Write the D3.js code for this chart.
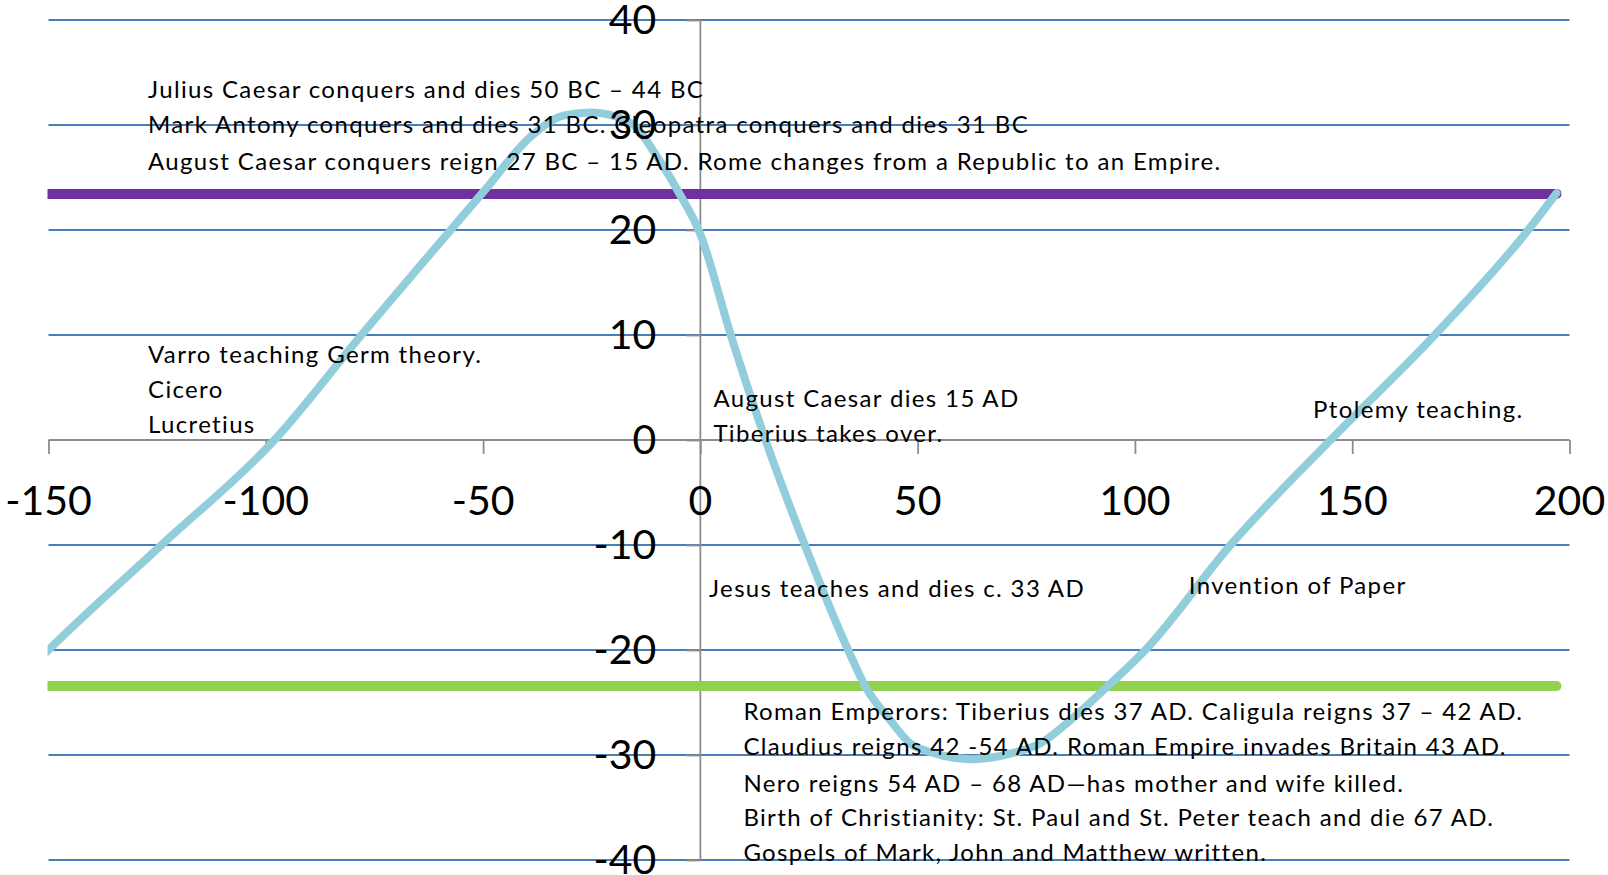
<!DOCTYPE html>
<html>
<head>
<meta charset="utf-8">
<script src="https://cdn.jsdelivr.net/npm/d3@7"></script>
<style>
  html, body { margin: 0; padding: 0; background: #fff; }
  svg { display: block; }
  text { font-family: Lato, "Open Sans", sans-serif; fill: #000; }
</style>
</head>
<body>
<svg id="chart" width="1608" height="875"></svg>
<script>
// ---- data ----
const xTicks = [-150, -100, -50, 0, 50, 100, 150, 200];
const yTicks = [-40, -30, -20, -10, 0, 10, 20, 30, 40];

// curve (year, value)
const curveX = [-156, -150, -124, -98, -78, -62, -50, -39, -31.5, -25, -16, -10, -5, 0, 7, 15, 24.5, 34, 38, 43.7, 48.3, 53.6, 62.5, 72, 78.2, 85.1, 93.6, 102.4, 122, 145, 169, 190.5, 197];
const curveY = [-22.5, -20, -10, 0, 10, 17.8, 23.6, 28.9, 30.9, 31.2, 30.2, 27, 23.6, 19.6, 10, 0, -10.5, -20, -23.5, -26.7, -28.9, -29.8, -30.4, -29.8, -28.9, -26.7, -23.5, -20, -10, 0, 10, 20, 23.5];

// tropic lines
const tropicNames = ["cancer", "capricorn"];
const tropicValues = [23.44, -23.44];
const tropicStart = [-156, -156];
const tropicEnd = [197, 197];
const tropicColors = ["#7030A0", "#92D050"];

// annotations
const noteText = [
  "Julius Caesar conquers and dies 50 BC – 44 BC",
  "Mark Antony conquers and dies 31 BC. Cleopatra conquers and dies 31 BC",
  "August Caesar conquers reign 27 BC – 15 AD. Rome changes from a Republic to an Empire.",
  "Varro teaching Germ theory.",
  "Cicero",
  "Lucretius",
  "August Caesar dies 15 AD",
  "Tiberius takes over.",
  "Ptolemy teaching.",
  "Jesus teaches and dies c. 33 AD",
  "Invention of Paper",
  "Roman Emperors: Tiberius dies 37 AD. Caligula reigns 37 – 42 AD.",
  "Claudius reigns 42 -54 AD. Roman Empire invades Britain 43 AD.",
  "Nero reigns 54 AD – 68 AD—has mother and wife killed.",
  "Birth of Christianity: St. Paul and St. Peter teach and die 67 AD.",
  "Gospels of Mark, John and Matthew written."
];
// anchor of each note in data units (year, value at baseline)
const noteX = [-127.1, -127.1, -127.1, -127.1, -127.1, -127.1, 3, 3, 141, 2, 112.4, 9.9, 9.9, 9.9, 9.9, 9.9];
const noteY = [32.57, 29.24, 25.75, 7.33, 4.0, 0.62, 3.14, -0.19, 2.1, -14.95, -14.67, -26.67, -30.0, -33.52, -36.76, -40.1];

// ---- drawing ----
const svg = d3.select("#chart");
const x = d3.scaleLinear().domain([-150, 200]).range([48.5, 1569.5]);
const y = d3.scaleLinear().domain([-40, 40]).range([860, 20]);

svg.append("defs").append("clipPath").attr("id", "plotclip")
  .append("rect")
  .attr("x", x(-150) - 1).attr("y", 0)
  .attr("width", x(200) - x(-150) + 30).attr("height", 875);

// gridlines
svg.append("g").selectAll("line")
  .data(yTicks.filter(d => d !== 0))
  .join("line")
  .attr("x1", x(-150)).attr("x2", x(200))
  .attr("y1", d => y(d)).attr("y2", d => y(d))
  .attr("stroke", "#4A7EBB").attr("stroke-width", 1.8);

// y axis (vertical line at x=0) with ticks on the left
const yAxis = d3.axisLeft(y).tickValues(yTicks).tickSize(14).tickFormat("");
const gY = svg.append("g").attr("transform", `translate(${x(0)},0)`).call(yAxis);
gY.selectAll("path,line").attr("stroke", "#8C8C8C").attr("stroke-width", 1.8);
gY.select("path").attr("d", `M0,${y(40)}V${y(-40)}`);

// x axis at y=0 with ticks below
const xAxis = d3.axisBottom(x).tickValues(xTicks).tickSize(14).tickFormat("");
const gX = svg.append("g").attr("transform", `translate(0,${y(0)})`).call(xAxis);
gX.selectAll("path,line").attr("stroke", "#8C8C8C").attr("stroke-width", 1.8);
gX.select("path").attr("d", `M${x(-150)},0H${x(200)}`);

// tropic lines
const plot = svg.append("g").attr("clip-path", "url(#plotclip)");
plot.selectAll("line.tropic")
  .data(tropicNames)
  .join("line")
  .attr("class", "tropic")
  .attr("x1", (d, i) => x(tropicStart[i]))
  .attr("x2", (d, i) => x(tropicEnd[i]))
  .attr("y1", (d, i) => y(tropicValues[i]))
  .attr("y2", (d, i) => y(tropicValues[i]))
  .attr("stroke", (d, i) => tropicColors[i])
  .attr("stroke-width", 10)
  .attr("stroke-linecap", "round");

// curve
const pts = curveX.map((d, i) => [d, curveY[i]]);
const line = d3.line().x(d => x(d[0])).y(d => y(d[1])).curve(d3.curveMonotoneX);
plot.append("path")
  .datum(pts)
  .attr("d", line)
  .attr("fill", "none")
  .attr("stroke", "#92CDDC")
  .attr("stroke-width", 8)
  .attr("stroke-linecap", "round")
  .attr("stroke-linejoin", "round");

// tick labels
svg.append("g").selectAll("text")
  .data(yTicks)
  .join("text")
  .attr("x", x(0) - 44)
  .attr("y", d => y(d) + 14)
  .attr("text-anchor", "end")
  .attr("font-size", 41)
  .text(d => d);

svg.append("g").selectAll("text")
  .data(xTicks)
  .join("text")
  .attr("x", d => x(d))
  .attr("y", y(0) + 75)
  .attr("text-anchor", "middle")
  .attr("font-size", 41)
  .text(d => d);

// annotations
svg.append("g").selectAll("text")
  .data(noteText)
  .join("text")
  .attr("x", (d, i) => x(noteX[i]))
  .attr("y", (d, i) => y(noteY[i]))
  .attr("font-size", 24)
  .attr("letter-spacing", 1.35)
  .text(d => d);
</script>
</body>
</html>
